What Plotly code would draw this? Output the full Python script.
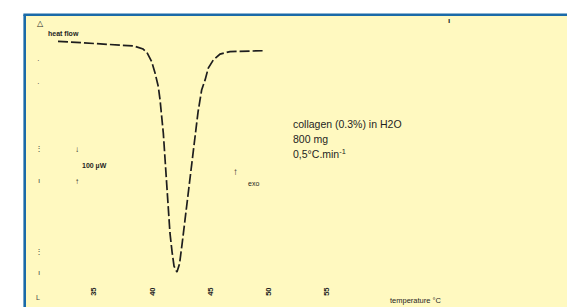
import plotly.graph_objects as go

# ---- data (temperature in °C, heat flow in µW, baseline ~0) ----
temperature = [31.91, 33.37, 35.34, 36.97, 38.43, 39.21, 39.55, 39.95, 40.24, 40.52,
               40.67, 40.95, 41.15, 41.38, 41.52, 41.70, 41.87, 42.12, 42.34, 42.55,
               42.73, 42.98, 43.37, 43.67, 43.93, 44.10, 44.24, 44.53, 44.81, 45.24,
               45.82, 46.67, 48.11, 49.68]
heat_flow = [2.3, -1.0, -4.2, -7.4, -12.9, -22.6, -33.9, -63.5, -100, -144,
             -187, -294, -403, -542, -616, -677, -723, -742, -716, -655,
             -600, -510, -403, -294, -226, -187, -155, -123, -84, -58,
             -39, -31, -30, -28]
tick_values = [35, 40, 45, 50, 55]
tick_labels = ["35", "40", "45", "50", "55"]
sample_lines = ["collagen (0.3%) in H2O", "800 mg", "0,5°C.min<sup>-1</sup>"]

W, H = 567, 307
ML, MT, MR, MB = 26, 16, 0, 22
PW, PH = W - ML - MR, H - MT - MB
BG = "#fff9c0"
INK = "#1e1e1e"


def P(px, py):
    """pixel position in the picture -> paper fraction"""
    return (px - ML) / PW, (H - MB - py) / PH


fig = go.Figure()
fig.add_trace(go.Scatter(
    x=temperature, y=heat_flow, mode="lines",
    line=dict(color=INK, width=1.7, dash="10px,3px"),
    hoverinfo="skip", showlegend=False,
))

anns = []


def txt(px, py, s, size, anchor="left", bold=False, color=INK, family="Liberation Sans, Arial, sans-serif"):
    x, y = P(px, py)
    if bold:
        s = "<b>" + s + "</b>"
    anns.append(dict(x=x, y=y, xref="paper", yref="paper", text=s, showarrow=False,
                     xanchor=anchor, yanchor="middle",
                     font=dict(size=size, color=color, family=family)))


txt(40, 24, "△", 8, anchor="center")
txt(46, 33, "heat flow", 7, bold=True)
for i, s in enumerate(sample_lines):
    txt(291, 124 + i * 14.5, s, 10.5)
txt(77, 149, "↓", 8, anchor="center")
txt(80, 166, "100 µW", 7, bold=True)
txt(77, 181, "↑", 8, anchor="center")
txt(235, 171, "↑", 10, anchor="center", bold=True)
txt(246, 183, "exo", 7)
txt(449, 20, "ı", 8, anchor="center", bold=True)
txt(388, 300, "temperature °C", 7.5)
# remnants of the scanned vertical axis
for py, s in [(61, "·"), (83, "·"), (148, "⋮"), (180, "ı"), (252, "⋮"), (272, "ı")]:
    txt(38.5, py, s, 8, anchor="center", color="#444")
txt(38, 297, "L", 7, anchor="center", color="#444")

shapes = [
    # white outer margins
    dict(type="rect", xref="paper", yref="paper", xsizemode="pixel", ysizemode="pixel",
         xanchor=0, yanchor=1, x0=-ML - 2, x1=-2, y0=MT + 2, y1=-MB - PH - 2,
         fillcolor="white", line=dict(width=0), layer="above"),
    dict(type="rect", xref="paper", yref="paper", xsizemode="pixel", ysizemode="pixel",
         xanchor=0, yanchor=1, x0=-ML - 2, x1=PW + 2, y0=MT + 2, y1=2,
         fillcolor="white", line=dict(width=0), layer="above"),
    # blue frame
    dict(type="line", xref="paper", yref="paper", xsizemode="pixel", ysizemode="pixel",
         xanchor=0, yanchor=1, x0=-1.3, x1=-1.3, y0=1.3, y1=-PH - MB - 2,
         line=dict(color="#1a6aa8", width=2.6), layer="above"),
    dict(type="line", xref="paper", yref="paper", xsizemode="pixel", ysizemode="pixel",
         xanchor=0, yanchor=1, x0=-2.6, x1=PW + 2, y0=1.3, y1=1.3,
         line=dict(color="#1a6aa8", width=2.6), layer="above"),
]

fig.update_layout(
    width=W, height=H,
    margin=dict(l=ML, r=MR, t=MT, b=MB, pad=0),
    paper_bgcolor=BG, plot_bgcolor=BG,
    showlegend=False,
    xaxis=dict(range=[35 - 68 / 11.65, 35 + 473 / 11.65], tickvals=tick_values, ticktext=tick_labels,
               tickangle=-90, ticks="", showgrid=False, zeroline=False, showline=False,
               tickfont=dict(size=7.5, color=INK, weight="bold",
                             family="Liberation Sans, Arial, sans-serif")),
    yaxis=dict(range=[-(285 - 42) / 0.31, (42 - 16) / 0.31], visible=False),
    annotations=anns,
    shapes=shapes,
)

fig.write_html("out.html", config={"displayModeBar": False},
               post_script="document.body.style.margin='0';document.body.style.overflow='hidden';")
